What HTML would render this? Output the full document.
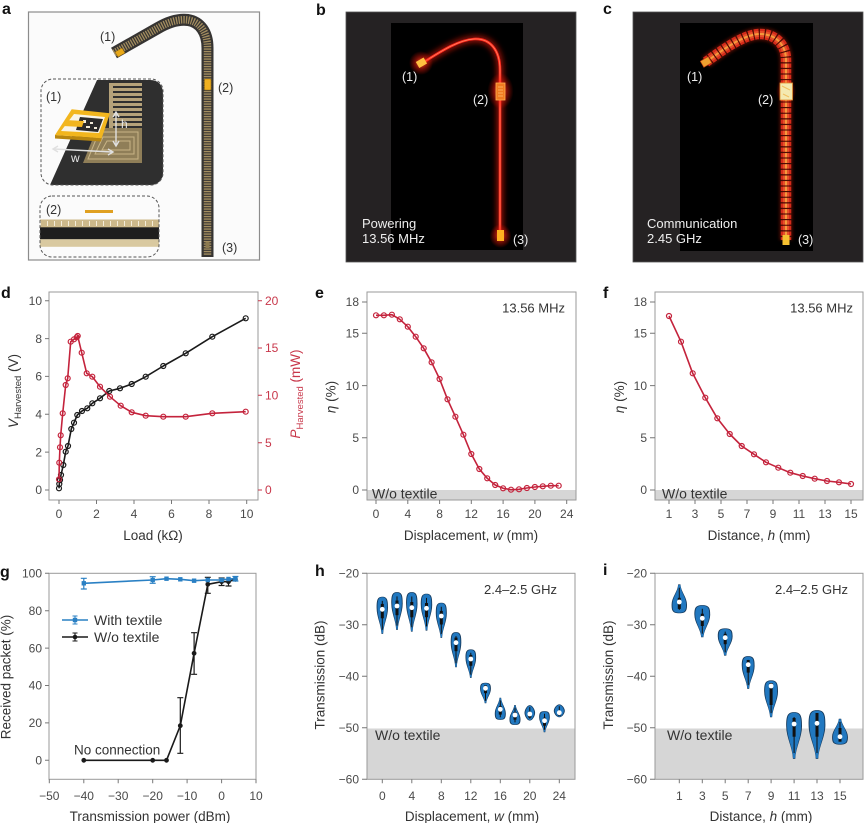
<!DOCTYPE html>
<html><head><meta charset="utf-8">
<style>html,body{margin:0;padding:0;background:#fff}svg{display:block}</style>
</head><body>
<svg width="865" height="823" viewBox="0 0 865 823" xmlns="http://www.w3.org/2000/svg" xmlns:xlink="http://www.w3.org/1999/xlink" font-family="'Liberation Sans', Arial, sans-serif">
<defs>
  <filter id="bl" x="-50%" y="-50%" width="200%" height="200%"><feGaussianBlur stdDeviation="3"/></filter>
  <filter id="bl2" x="-50%" y="-50%" width="200%" height="200%"><feGaussianBlur stdDeviation="1.5"/></filter>
  <radialGradient id="rg">
    <stop offset="0" stop-color="#ff6a30" stop-opacity="0.95"/>
    <stop offset="0.5" stop-color="#ff2010" stop-opacity="0.45"/>
    <stop offset="1" stop-color="#ff1000" stop-opacity="0"/>
  </radialGradient>
  <clipPath id="ca1"><rect x="41" y="79" width="122" height="106" rx="12"/></clipPath>
  <clipPath id="ca2"><rect x="40" y="196" width="119" height="61" rx="12"/></clipPath>
  <path id="vt" d="M0,0 C0.9,0 1,0.1 1,0.3 C1,0.55 0.2,0.75 0.15,1 L-0.15,1 C-0.2,0.75 -1,0.55 -1,0.3 C-1,0.1 -0.9,0 0,0 Z"/>
  <path id="vb" d="M0,1 C0.9,1 1,0.9 1,0.7 C1,0.45 0.2,0.25 0.15,0 L-0.15,0 C-0.2,0.25 -1,0.45 -1,0.7 C-1,0.9 -0.9,1 0,1 Z"/>
  <path id="vm" d="M0,0 C0.5,0 1,0.3 1,0.5 C1,0.7 0.5,1 0,1 C-0.5,1 -1,0.7 -1,0.5 C-1,0.3 -0.5,0 0,0 Z"/>
</defs>

<!-- panel letters -->
<g font-weight="bold" font-size="16" fill="#111">
  <text x="2" y="14">a</text>
  <text x="316" y="15">b</text>
  <text x="603" y="14">c</text>
  <text x="1" y="298">d</text>
  <text x="315" y="298">e</text>
  <text x="603" y="298">f</text>
  <text x="0" y="577">g</text>
  <text x="315" y="576">h</text>
  <text x="603" y="575">i</text>
</g>

<!-- ================= PANEL A ================= -->
<rect x="28.5" y="12" width="231" height="248" fill="#fbfbfb" stroke="#8c8c8c" stroke-width="1.2"/>
<path d="M114 53 L158 28 C170 21,180 19,188 20 C200 22,207.5 32,207.5 48 L207.5 257" fill="none" stroke="#363432" stroke-width="12"/>
<path d="M114 53 L158 28 C170 21,180 19,188 20 C200 22,207.5 32,207.5 48 L207.5 255" fill="none" stroke="#a38d5f" stroke-width="7.5" stroke-dasharray="1.3 1.2"/>
<polygon points="115,52 122,48 125,53 118,57" fill="#e8a818" stroke="#8a6010" stroke-width="0.5"/>
<rect x="204.5" y="79" width="6.5" height="11" rx="1" fill="#f0b020" stroke="#9a7010" stroke-width="0.6"/>
<rect x="205.5" y="242" width="4" height="6" fill="#8c7a50"/>
<g font-size="12.5" fill="#333">
  <text x="100" y="41">(1)</text>
  <text x="218" y="92">(2)</text>
  <text x="222" y="252">(3)</text>
</g>
<!-- inset 1 -->
<g clip-path="url(#ca1)">
  <path d="M50,185 L97,80 L150,80 Q163,80 163,95 L163,175 Q163,185 153,185 Z" fill="#2f2f2f"/>
  <g fill="#b5a27a">
    <rect x="111" y="83" width="31" height="3"/>
    <rect x="111" y="88" width="31" height="3"/>
    <rect x="111" y="93" width="31" height="3"/>
    <rect x="111" y="98" width="31" height="3"/>
    <rect x="111" y="103" width="31" height="3"/>
    <rect x="111" y="108" width="31" height="3"/>
    <rect x="111" y="113" width="31" height="3"/>
    <rect x="111" y="118" width="31" height="3"/>
    <rect x="111" y="123" width="31" height="3"/>
    <rect x="109" y="83" width="4" height="45"/>
  </g>
  <path d="M97 128 L142 128 L142 163 L83 163 Z" fill="#8f7e58"/>
  <g fill="none" stroke="#c8b486" stroke-width="1">
    <path d="M99 132 L138 132 L138 159 L88 159 Z"/>
    <path d="M103 137 L134 137 L134 154 L95 154 Z"/>
    <path d="M107 141 L130 141 L130 150 L102 150 Z"/>
  </g>
  <polygon points="55,135 101.7,138.3 101,141.5 55,138.5" fill="#b8860f"/>
  <polygon points="71.7,109.3 110,113.3 101.7,138.3 55,135" fill="#f2b61e"/>
  <polygon points="74,114 105,117 99,133 61,131" fill="#f8f4e8"/>
  <polygon points="80,117 103,119 98,132 76,130" fill="#2a2a2a"/>
  <g fill="#f0ead8"><rect x="83" y="120" width="3" height="3"/><rect x="90" y="122" width="3" height="2"/><rect x="86" y="126" width="4" height="2"/><rect x="94" y="127" width="3" height="2"/></g>
  <polygon points="65,120 84,121 82,127 63,126" fill="#f2b61e"/>
  <g stroke="#e0e0e0" stroke-width="1.4" fill="none">
    <path d="M116 113 V145"/><path d="M113 117 L116 112 L119 117"/><path d="M113 141 L116 146 L119 141"/>
    <path d="M54 149 L112 152"/><path d="M58 146 L53 149 L58 152"/><path d="M108 149 L113 152 L108 155"/>
  </g>
  <text x="121" y="128" font-size="12" fill="#e8e8e8">h</text>
  <text x="71" y="162" font-size="12" fill="#e8e8e8">w</text>
</g>
<rect x="41" y="79" width="122" height="106" rx="12" fill="none" stroke="#555" stroke-dasharray="3 2"/>
<text x="46" y="101" font-size="12.5" fill="#333">(1)</text>
<!-- inset 2 -->
<g clip-path="url(#ca2)">
  <rect x="40" y="219.5" width="120" height="8" fill="#cdb98a"/>
  <path d="M40 223.5 H160" stroke="#f4ecd8" stroke-width="5" stroke-dasharray="1 6"/>
  <rect x="40" y="227.3" width="120" height="12" fill="#1e1e1e"/>
  <rect x="40" y="239.3" width="120" height="7.5" fill="#d9c9a0"/>
</g>
<rect x="85" y="210" width="28" height="3" fill="#e0a020"/>
<rect x="40" y="196" width="119" height="61" rx="12" fill="none" stroke="#555" stroke-dasharray="3 2"/>
<text x="46" y="214" font-size="12.5" fill="#333">(2)</text>

<!-- ================= PANEL B ================= -->
<rect x="346" y="12" width="230" height="250" fill="#252223" stroke="#555" stroke-width="0.8"/>
<rect x="391" y="23" width="132" height="227" fill="#000"/>
<path d="M424 62 C440 52,458 40,474 39 C490 38,500 50,500 70 L500 234" fill="none" stroke="#ff1a10" stroke-width="7" opacity="0.55" filter="url(#bl)"/>
<path d="M424 62 C440 52,458 40,474 39 C490 38,500 50,500 70 L500 234" fill="none" stroke="#ff2a1c" stroke-width="2.6"/>
<path d="M424 62 C440 52,458 40,474 39 C490 38,500 50,500 70 L500 234" fill="none" stroke="#ff8a6a" stroke-width="0.7"/>
<circle cx="421" cy="63" r="12" fill="url(#rg)"/>
<rect x="417" y="59.5" width="9" height="7" fill="#ffc040" transform="rotate(-30 421 63)"/>
<ellipse cx="500.5" cy="91" rx="13" ry="18" fill="url(#rg)"/>
<rect x="496" y="83" width="9" height="17" fill="#f07a20" stroke="#ffb050" stroke-width="0.8"/>
<path d="M498 87H503M498 90H503M498 93H503M498 96H503" stroke="#ffc070" stroke-width="0.8"/>
<ellipse cx="500.5" cy="236" rx="11" ry="12" fill="url(#rg)"/>
<rect x="497" y="230" width="7" height="11" fill="#ffb020"/>
<g font-size="12.5" fill="#eee">
  <text x="402" y="81">(1)</text>
  <text x="473" y="104">(2)</text>
  <text x="513" y="244">(3)</text>
</g>
<g font-size="13" fill="#eee">
  <text x="362" y="228">Powering</text>
  <text x="362" y="243">13.56 MHz</text>
</g>

<!-- ================= PANEL C ================= -->
<rect x="633" y="12" width="230" height="250" fill="#252223" stroke="#555" stroke-width="0.8"/>
<rect x="680" y="23" width="133" height="228" fill="#000"/>
<path d="M706 62 C725 48,745 34,760 34 C776 34,786 45,786 60 L786 240" fill="none" stroke="#ff2a10" stroke-width="13" opacity="0.3" filter="url(#bl2)"/>
<path d="M706 62 C725 48,745 34,760 34 C776 34,786 45,786 60 L786 240" fill="none" stroke="#d42a1a" stroke-width="10.5" stroke-dasharray="4.3 1.3"/>
<path d="M706 62 C725 48,745 34,760 34 C776 34,786 45,786 60 L786 240" fill="none" stroke="#e6502a" stroke-width="6" stroke-dasharray="4.3 1.3"/>
<path d="M706 62 C725 48,745 34,760 34 C776 34,786 45,786 60 L786 240" fill="none" stroke="#f59a3c" stroke-width="2" stroke-dasharray="4.3 1.3"/>
<rect x="701.5" y="58.5" width="9" height="7" fill="#f0a030" stroke="#c84010" stroke-width="0.6" transform="rotate(-30 706 62)"/>
<ellipse cx="786" cy="91" rx="10" ry="13" fill="url(#rg)" opacity="0.7"/>
<rect x="780" y="83" width="12.5" height="17" fill="#f4eab0" stroke="#e09030" stroke-width="0.8"/>
<path d="M782 86 L790 90 M783 94 L789 97" stroke="#f0c060" stroke-width="1"/>
<rect x="782.5" y="235" width="7" height="10" fill="#f6c030"/>
<g font-size="12.5" fill="#eee">
  <text x="687" y="81">(1)</text>
  <text x="758" y="104">(2)</text>
  <text x="798" y="244">(3)</text>
</g>
<g font-size="13" fill="#eee">
  <text x="647" y="228">Communication</text>
  <text x="647" y="243">2.45 GHz</text>
</g>

<!-- ================= PANEL D ================= -->
<rect x="49" y="292" width="209" height="208" fill="none" stroke="#9a9a9a"/>
<path d="M45 490H49M45 452.1H49M45 414.3H49M45 376.4H49M45 338.6H49M45 300.7H49" stroke="#777"/>
<g font-size="12" fill="#4a4a4a" text-anchor="end">
  <text x="42" y="494.2">0</text><text x="42" y="456.3">2</text><text x="42" y="418.5">4</text>
  <text x="42" y="380.6">6</text><text x="42" y="342.8">8</text><text x="42" y="304.9">10</text>
</g>
<path d="M258 490H262M258 442.7H262M258 395.3H262M258 348H262M258 300.7H262" stroke="#c8374a"/>
<g font-size="12" fill="#c8374a">
  <text x="265" y="494.2">0</text><text x="265" y="446.9">5</text><text x="265" y="399.5">10</text>
  <text x="265" y="352.2">15</text><text x="265" y="304.9">20</text>
</g>
<path d="M59 500V504M96.5 500V504M134 500V504M171.5 500V504M209 500V504M246.7 500V504" stroke="#777"/>
<g font-size="12" fill="#4a4a4a" text-anchor="middle">
  <text x="59" y="518">0</text><text x="96.5" y="518">2</text><text x="134" y="518">4</text>
  <text x="171.5" y="518">6</text><text x="209" y="518">8</text><text x="246.7" y="518">10</text>
</g>
<text x="153" y="540" font-size="13.5" fill="#333" text-anchor="middle">Load (kΩ)</text>
<text transform="translate(18,391) rotate(-90)" text-anchor="middle" font-size="13.5" fill="#333"><tspan font-style="italic">V</tspan><tspan font-size="9.5" dy="3">Harvested</tspan><tspan dy="-3"> (V)</tspan></text>
<text transform="translate(300,394) rotate(-90)" text-anchor="middle" font-size="13.5" fill="#c8374a"><tspan font-style="italic">P</tspan><tspan font-size="9.5" dy="3">Harvested</tspan><tspan dy="-3"> (mW)</tspan></text>
<polyline fill="none" stroke="#1a1a1a" stroke-width="1.6" stroke-linejoin="round" points="59,488.3 59.3,484 60,480 61,475 63.3,465 65.7,451.7 68,446 71.3,429 74,422.7 77.3,415 82,411 87.3,408.3 92.3,403.3 100,398.3 109.3,391 120,388.3 131.7,384 145.7,376.7 163.3,366 185.7,353.3 212.3,336.7 245.7,318.3"/>
<g fill="none" stroke="#1a1a1a" stroke-width="1.2">
  <circle cx="59" cy="488.3" r="2.5"/><circle cx="59.3" cy="484" r="2.5"/><circle cx="60" cy="480" r="2.5"/><circle cx="61" cy="475" r="2.5"/>
  <circle cx="63.3" cy="465" r="2.5"/><circle cx="65.7" cy="451.7" r="2.5"/><circle cx="68" cy="446" r="2.5"/><circle cx="71.3" cy="429" r="2.5"/>
  <circle cx="74" cy="422.7" r="2.5"/><circle cx="77.3" cy="415" r="2.5"/><circle cx="82" cy="411" r="2.5"/><circle cx="87.3" cy="408.3" r="2.5"/>
  <circle cx="92.3" cy="403.3" r="2.5"/><circle cx="100" cy="398.3" r="2.5"/><circle cx="109.3" cy="391" r="2.5"/><circle cx="120" cy="388.3" r="2.5"/>
  <circle cx="131.7" cy="384" r="2.5"/><circle cx="145.7" cy="376.7" r="2.5"/><circle cx="163.3" cy="366" r="2.5"/><circle cx="185.7" cy="353.3" r="2.5"/>
  <circle cx="212.3" cy="336.7" r="2.5"/><circle cx="245.7" cy="318.3" r="2.5"/>
</g>
<polyline fill="none" stroke="#c4233c" stroke-width="1.6" stroke-linejoin="round" points="59,479.3 59.3,462.7 60,447.3 60.7,435.3 62.7,413.3 65.7,385 67.7,378.3 70.7,341.7 74,339.3 76.7,337.3 77.7,336 81.7,352.7 86.7,373.3 92.3,376.7 100,386.7 110,396.7 120.7,405.7 131.7,412.3 145.7,415.7 163.3,416.7 185.7,416.7 212.3,413.3 245.7,411.7"/>
<g fill="none" stroke="#c4233c" stroke-width="1.2">
  <circle cx="59" cy="479.3" r="2.5"/><circle cx="59.3" cy="462.7" r="2.5"/><circle cx="60" cy="447.3" r="2.5"/><circle cx="60.7" cy="435.3" r="2.5"/>
  <circle cx="62.7" cy="413.3" r="2.5"/><circle cx="65.7" cy="385" r="2.5"/><circle cx="67.7" cy="378.3" r="2.5"/><circle cx="70.7" cy="341.7" r="2.5"/>
  <circle cx="74" cy="339.3" r="2.5"/><circle cx="76.7" cy="337.3" r="2.5"/><circle cx="77.7" cy="336" r="2.5"/><circle cx="81.7" cy="352.7" r="2.5"/>
  <circle cx="86.7" cy="373.3" r="2.5"/><circle cx="92.3" cy="376.7" r="2.5"/><circle cx="100" cy="386.7" r="2.5"/><circle cx="110" cy="396.7" r="2.5"/>
  <circle cx="120.7" cy="405.7" r="2.5"/><circle cx="131.7" cy="412.3" r="2.5"/><circle cx="145.7" cy="415.7" r="2.5"/><circle cx="163.3" cy="416.7" r="2.5"/>
  <circle cx="185.7" cy="416.7" r="2.5"/><circle cx="212.3" cy="413.3" r="2.5"/><circle cx="245.7" cy="411.7" r="2.5"/>
</g>

<!-- ================= PANEL E ================= -->
<rect x="367" y="490" width="209" height="10" fill="#d6d6d6"/>
<rect x="367" y="292" width="209" height="208" fill="none" stroke="#9a9a9a"/>
<path d="M362 490H367M362 437.8H367M362 385.6H367M362 333.3H367M362 302H367" stroke="#777"/>
<g font-size="12" fill="#4a4a4a" text-anchor="end">
  <text x="359" y="494.2">0</text><text x="359" y="442">5</text><text x="359" y="389.8">10</text>
  <text x="359" y="337.5">15</text><text x="359" y="306.2">18</text>
</g>
<path d="M376 500V504M407.8 500V504M439.6 500V504M471.3 500V504M503.1 500V504M534.9 500V504M566.7 500V504" stroke="#777"/>
<g font-size="12" fill="#4a4a4a" text-anchor="middle">
  <text x="376" y="518">0</text><text x="407.8" y="518">4</text><text x="439.6" y="518">8</text>
  <text x="471.3" y="518">12</text><text x="503.1" y="518">16</text><text x="534.9" y="518">20</text><text x="566.7" y="518">24</text>
</g>
<text x="471" y="540" font-size="13.5" fill="#333" text-anchor="middle">Displacement, <tspan font-style="italic">w</tspan> (mm)</text>
<text transform="translate(335.5,397) rotate(-90)" text-anchor="middle" font-size="13.5" fill="#333"><tspan font-style="italic">η</tspan> (%)</text>
<text x="565" y="312.5" font-size="13" fill="#333" text-anchor="end">13.56 MHz</text>
<text x="372" y="498.5" font-size="14" fill="#333">W/o textile</text>
<polyline fill="none" stroke="#c4233c" stroke-width="1.6" stroke-linejoin="round" points="376,315.3 383.9,315.3 391.9,314.7 399.8,319.3 407.8,326.7 415.7,336.7 423.7,348.3 431.6,362.3 439.6,379 447.5,399.3 455.4,416.7 463.4,434.7 471.3,454 479.3,469 487.2,478.3 495.2,485 503.1,488.3 511,489.7 519,489.3 526.9,488 534.9,487 542.8,486.3 550.8,485.7 558.7,485.7"/>
<g fill="none" stroke="#c4233c" stroke-width="1.2">
  <circle cx="376" cy="315.3" r="2.5"/><circle cx="383.9" cy="315.3" r="2.5"/><circle cx="391.9" cy="314.7" r="2.5"/><circle cx="399.8" cy="319.3" r="2.5"/>
  <circle cx="407.8" cy="326.7" r="2.5"/><circle cx="415.7" cy="336.7" r="2.5"/><circle cx="423.7" cy="348.3" r="2.5"/><circle cx="431.6" cy="362.3" r="2.5"/>
  <circle cx="439.6" cy="379" r="2.5"/><circle cx="447.5" cy="399.3" r="2.5"/><circle cx="455.4" cy="416.7" r="2.5"/><circle cx="463.4" cy="434.7" r="2.5"/>
  <circle cx="471.3" cy="454" r="2.5"/><circle cx="479.3" cy="469" r="2.5"/><circle cx="487.2" cy="478.3" r="2.5"/><circle cx="495.2" cy="485" r="2.5"/>
  <circle cx="503.1" cy="488.3" r="2.5"/><circle cx="511" cy="489.7" r="2.5"/><circle cx="519" cy="489.3" r="2.5"/><circle cx="526.9" cy="488" r="2.5"/>
  <circle cx="534.9" cy="487" r="2.5"/><circle cx="542.8" cy="486.3" r="2.5"/><circle cx="550.8" cy="485.7" r="2.5"/><circle cx="558.7" cy="485.7" r="2.5"/>
</g>

<!-- ================= PANEL F ================= -->
<rect x="655" y="490" width="208" height="10" fill="#d6d6d6"/>
<rect x="655" y="292" width="208" height="208" fill="none" stroke="#9a9a9a"/>
<path d="M650 490H655M650 437.8H655M650 385.6H655M650 333.3H655M650 302H655" stroke="#777"/>
<g font-size="12" fill="#4a4a4a" text-anchor="end">
  <text x="647" y="494.2">0</text><text x="647" y="442">5</text><text x="647" y="389.8">10</text>
  <text x="647" y="337.5">15</text><text x="647" y="306.2">18</text>
</g>
<path d="M669 500V504M695 500V504M721 500V504M747 500V504M773 500V504M799 500V504M825 500V504M851 500V504" stroke="#777"/>
<g font-size="12" fill="#4a4a4a" text-anchor="middle">
  <text x="669" y="518">1</text><text x="695" y="518">3</text><text x="721" y="518">5</text><text x="747" y="518">7</text>
  <text x="773" y="518">9</text><text x="799" y="518">11</text><text x="825" y="518">13</text><text x="851" y="518">15</text>
</g>
<text x="759" y="540" font-size="13.5" fill="#333" text-anchor="middle">Distance, <tspan font-style="italic">h</tspan> (mm)</text>
<text transform="translate(624,397) rotate(-90)" text-anchor="middle" font-size="13.5" fill="#333"><tspan font-style="italic">η</tspan> (%)</text>
<text x="853" y="312.5" font-size="13" fill="#333" text-anchor="end">13.56 MHz</text>
<text x="662" y="498.5" font-size="14" fill="#333">W/o textile</text>
<polyline fill="none" stroke="#c4233c" stroke-width="1.6" stroke-linejoin="round" points="669,316 681,341.7 692.7,373.3 705.3,397.7 717.3,418.3 729.7,434 741.7,446 754,454.3 766,462.3 778.3,467.7 790.3,472.7 802.7,476 814.7,478.7 827,481 839,482.3 851,484"/>
<g fill="none" stroke="#c4233c" stroke-width="1.2">
  <circle cx="669" cy="316" r="2.5"/><circle cx="681" cy="341.7" r="2.5"/><circle cx="692.7" cy="373.3" r="2.5"/><circle cx="705.3" cy="397.7" r="2.5"/>
  <circle cx="717.3" cy="418.3" r="2.5"/><circle cx="729.7" cy="434" r="2.5"/><circle cx="741.7" cy="446" r="2.5"/><circle cx="754" cy="454.3" r="2.5"/>
  <circle cx="766" cy="462.3" r="2.5"/><circle cx="778.3" cy="467.7" r="2.5"/><circle cx="790.3" cy="472.7" r="2.5"/><circle cx="802.7" cy="476" r="2.5"/>
  <circle cx="814.7" cy="478.7" r="2.5"/><circle cx="827" cy="481" r="2.5"/><circle cx="839" cy="482.3" r="2.5"/><circle cx="851" cy="484" r="2.5"/>
</g>

<!-- ================= PANEL G ================= -->
<rect x="49" y="573.3" width="207" height="206" fill="none" stroke="#9a9a9a"/>
<path d="M45 760.3H49M45 722.9H49M45 685.5H49M45 648.1H49M45 610.7H49M45 573.3H49" stroke="#777"/>
<g font-size="12" fill="#4a4a4a" text-anchor="end">
  <text x="42" y="764.5">0</text><text x="42" y="727.1">20</text><text x="42" y="689.7">40</text>
  <text x="42" y="652.3">60</text><text x="42" y="614.9">80</text><text x="42" y="577.5">100</text>
</g>
<path d="M49.3 779.3V783.3M83.8 779.3V783.3M118.2 779.3V783.3M152.7 779.3V783.3M187.1 779.3V783.3M221.6 779.3V783.3M256 779.3V783.3" stroke="#777"/>
<g font-size="12" fill="#4a4a4a" text-anchor="middle">
  <text x="49.3" y="800">−50</text><text x="83.8" y="800">−40</text><text x="118.2" y="800">−30</text>
  <text x="152.7" y="800">−20</text><text x="187.1" y="800">−10</text><text x="221.6" y="800">0</text><text x="256" y="800">10</text>
</g>
<text x="150" y="821" font-size="13.5" fill="#333" text-anchor="middle">Transmission power (dBm)</text>
<text transform="translate(10.5,677) rotate(-90)" text-anchor="middle" font-size="13.5" fill="#333">Received packet (%)</text>
<polyline fill="none" stroke="#1a1a1a" stroke-width="1.6" points="83.8,760.3 152.7,760.3 166.5,760.3 180.3,725.7 194.1,653.3 207.8,584.3 221.6,581.7 228.5,581.7 235.4,579.3"/>
<g stroke="#1a1a1a" stroke-width="1.2" fill="none">
  <path d="M180.3 697.7V753.3M177.3 697.7H183.3M177.3 753.3H183.3"/>
  <path d="M194.1 632.7V674.3M191.1 632.7H197.1M191.1 674.3H197.1"/>
  <path d="M207.8 577.3V593.3M204.8 577.3H210.8M204.8 593.3H210.8"/>
  <path d="M221.6 578V585.5M218.6 578H224.6M218.6 585.5H224.6"/>
  <path d="M228.5 579.3V586M225.5 579.3H231.5M225.5 586H231.5"/>
</g>
<g fill="#1a1a1a">
  <circle cx="83.8" cy="760.3" r="2.4"/><circle cx="152.7" cy="760.3" r="2.4"/><circle cx="166.5" cy="760.3" r="2.4"/>
  <circle cx="180.3" cy="725.7" r="2.4"/><circle cx="194.1" cy="653.3" r="2.4"/><circle cx="207.8" cy="584.3" r="2.4"/>
  <circle cx="221.6" cy="581.7" r="2.4"/><circle cx="228.5" cy="581.7" r="2.4"/><circle cx="235.4" cy="579.3" r="2.4"/>
</g>
<polyline fill="none" stroke="#2a80c4" stroke-width="1.6" points="83.8,583.3 152.7,580 166.5,578.7 180.3,579.3 194.1,580.7 207.8,580 221.6,580 228.5,579 235.4,578.7"/>
<g stroke="#2a80c4" stroke-width="1.2" fill="none">
  <path d="M83.8 578.3V589M80.8 578.3H86.8M80.8 589H86.8"/>
  <path d="M152.7 576.7V583.3M149.7 576.7H155.7M149.7 583.3H155.7"/>
  <path d="M235.4 576.5V581M232.4 576.5H238.4M232.4 581H238.4"/>
</g>
<g fill="#2a80c4">
  <rect x="81.6" y="581.1" width="4.4" height="4.4"/><rect x="150.5" y="577.8" width="4.4" height="4.4"/>
  <rect x="164.3" y="576.5" width="4.4" height="4.4"/><rect x="178.1" y="577.1" width="4.4" height="4.4"/>
  <rect x="191.9" y="578.5" width="4.4" height="4.4"/><rect x="205.6" y="577.8" width="4.4" height="4.4"/>
  <rect x="219.4" y="577.8" width="4.4" height="4.4"/><rect x="226.3" y="576.8" width="4.4" height="4.4"/>
  <rect x="233.2" y="576.5" width="4.4" height="4.4"/>
</g>
<path d="M62 620H88" stroke="#2a80c4" stroke-width="1.6"/>
<path d="M75 616V624M72.5 616H77.5M72.5 624H77.5" stroke="#2a80c4" stroke-width="1.1" fill="none"/>
<rect x="72.8" y="617.8" width="4.4" height="4.4" fill="#2a80c4"/>
<path d="M62 637H88" stroke="#1a1a1a" stroke-width="1.6"/>
<path d="M75 633V641M72.5 633H77.5M72.5 641H77.5" stroke="#1a1a1a" stroke-width="1.1" fill="none"/>
<circle cx="75" cy="637" r="2.3" fill="#1a1a1a"/>
<text x="94" y="625" font-size="14" fill="#333">With textile</text>
<text x="94" y="642" font-size="14" fill="#333">W/o textile</text>
<text x="74" y="754.5" font-size="13.5" fill="#333">No connection</text>

<!-- ================= PANEL H ================= -->
<rect x="367" y="728.5" width="208" height="50.8" fill="#d6d6d6"/>
<rect x="367" y="573.3" width="208" height="206" fill="none" stroke="#9a9a9a"/>
<path d="M362 573.3H367M362 624.8H367M362 676.3H367M362 727.8H367M362 779.3H367" stroke="#777"/>
<g font-size="12" fill="#4a4a4a" text-anchor="end">
  <text x="359" y="577.5">−20</text><text x="359" y="629">−30</text><text x="359" y="680.5">−40</text>
  <text x="359" y="732">−50</text><text x="359" y="783.5">−60</text>
</g>
<path d="M382.3 779.3V783.3M411.8 779.3V783.3M441.3 779.3V783.3M470.8 779.3V783.3M500.3 779.3V783.3M529.8 779.3V783.3M559.3 779.3V783.3" stroke="#777"/>
<g font-size="12" fill="#4a4a4a" text-anchor="middle">
  <text x="382.3" y="800">0</text><text x="411.8" y="800">4</text><text x="441.3" y="800">8</text>
  <text x="470.8" y="800">12</text><text x="500.3" y="800">16</text><text x="529.8" y="800">20</text><text x="559.3" y="800">24</text>
</g>
<text x="472" y="821" font-size="13.5" fill="#333" text-anchor="middle">Displacement, <tspan font-style="italic">w</tspan> (mm)</text>
<text transform="translate(324.5,675) rotate(-90)" text-anchor="middle" font-size="13.5" fill="#333">Transmission (dB)</text>
<text x="557" y="594" font-size="13" fill="#333" text-anchor="end">2.4–2.5 GHz</text>
<text x="375" y="740" font-size="14" fill="#333">W/o textile</text>
<g fill="#163a5c">
  <use xlink:href="#vt" href="#vt" transform="translate(382.3,596.7) scale(5.7,37.2)"/>
  <use xlink:href="#vt" href="#vt" transform="translate(397,592.1) scale(5.7,37.8)"/>
  <use xlink:href="#vt" href="#vt" transform="translate(411.8,592.1) scale(5.7,39.5)"/>
  <use xlink:href="#vt" href="#vt" transform="translate(426.5,593.7) scale(5.7,36.9)"/>
  <use xlink:href="#vt" href="#vt" transform="translate(441.3,602.7) scale(5.5,35.2)"/>
  <use xlink:href="#vt" href="#vt" transform="translate(456,632.1) scale(5.3,35.2)"/>
  <use xlink:href="#vt" href="#vt" transform="translate(470.8,649.4) scale(5.3,28.5)"/>
  <use xlink:href="#vt" href="#vt" transform="translate(485.5,682.7) scale(5.4,20.6)"/>
  <use xlink:href="#vb" href="#vb" transform="translate(500.3,697.7) scale(5.5,22.2)"/>
  <use xlink:href="#vb" href="#vb" transform="translate(515,705.1) scale(5.5,19.8)"/>
  <use xlink:href="#vm" href="#vm" transform="translate(529.8,705.1) scale(5.3,15.5)"/>
  <use xlink:href="#vt" href="#vt" transform="translate(544.5,711.1) scale(5.3,21.2)"/>
  <use xlink:href="#vm" href="#vm" transform="translate(559.3,704.4) scale(5.5,12.9)"/>
</g>
<g fill="#2178c0">
  <use xlink:href="#vt" href="#vt" transform="translate(382.3,597.3) scale(4.8,36)"/>
  <use xlink:href="#vt" href="#vt" transform="translate(397,592.7) scale(4.8,36.6)"/>
  <use xlink:href="#vt" href="#vt" transform="translate(411.8,592.7) scale(4.8,38.3)"/>
  <use xlink:href="#vt" href="#vt" transform="translate(426.5,594.3) scale(4.8,35.7)"/>
  <use xlink:href="#vt" href="#vt" transform="translate(441.3,603.3) scale(4.6,34)"/>
  <use xlink:href="#vt" href="#vt" transform="translate(456,632.7) scale(4.4,34)"/>
  <use xlink:href="#vt" href="#vt" transform="translate(470.8,650) scale(4.4,27.3)"/>
  <use xlink:href="#vt" href="#vt" transform="translate(485.5,683.3) scale(4.5,19.4)"/>
  <use xlink:href="#vb" href="#vb" transform="translate(500.3,698.3) scale(4.6,21)"/>
  <use xlink:href="#vb" href="#vb" transform="translate(515,705.7) scale(4.6,18.6)"/>
  <use xlink:href="#vm" href="#vm" transform="translate(529.8,705.7) scale(4.4,14.3)"/>
  <use xlink:href="#vt" href="#vt" transform="translate(544.5,711.7) scale(4.4,20)"/>
  <use xlink:href="#vm" href="#vm" transform="translate(559.3,705) scale(4.6,11.7)"/>
</g>
<g stroke="#111" stroke-width="1">
  <path d="M382.3 600.9V629.7M397 596.4V625.6M411.8 596.5V627.2M426.5 597.9V626.4M441.3 606.7V633.9M456 636.1V663.3M470.8 652.7V674.6M485.5 685.2V700.8M500.3 700.4V717.2M515 707.6V722.4M529.8 707.1V718.6M544.5 713.7V729.7M559.3 706.2V715.5"/>
</g>
<g fill="#111">
  <rect x="380.8" y="603.9" width="3" height="14.4"/><rect x="395.5" y="600.5" width="3" height="14.7"/>
  <rect x="410.3" y="602" width="3" height="15.3"/><rect x="425" y="603" width="3" height="14.2"/>
  <rect x="439.8" y="610.9" width="3" height="13.6"/><rect x="454.5" y="637.6" width="3" height="13.6"/>
  <rect x="469.3" y="654.9" width="3" height="10.9"/><rect x="484" y="685.4" width="3" height="7.8"/>
  <rect x="498.8" y="706.2" width="3" height="8.4"/><rect x="513.5" y="712.2" width="3" height="7.5"/>
  <rect x="528.3" y="711.9" width="3" height="5.7"/><rect x="543" y="717.7" width="3" height="8"/>
  <rect x="557.8" y="710.9" width="3" height="4.7"/>
</g>
<g fill="#fff">
  <circle cx="382.3" cy="609.3" r="2.4"/><circle cx="397" cy="606" r="2.4"/><circle cx="411.8" cy="607.7" r="2.4"/>
  <circle cx="426.5" cy="608.3" r="2.4"/><circle cx="441.3" cy="616" r="2.4"/><circle cx="456" cy="642.7" r="2.4"/>
  <circle cx="470.8" cy="659" r="2.4"/><circle cx="485.5" cy="688.3" r="2.4"/><circle cx="500.3" cy="709.3" r="2.4"/>
  <circle cx="515" cy="715" r="2.4"/><circle cx="529.8" cy="714" r="2.4"/><circle cx="544.5" cy="720.7" r="2.4"/>
  <circle cx="559.3" cy="712.7" r="2.4"/>
</g>

<!-- ================= PANEL I ================= -->
<rect x="655" y="728.5" width="208" height="50.8" fill="#d6d6d6"/>
<rect x="655" y="573.3" width="208" height="206" fill="none" stroke="#9a9a9a"/>
<path d="M650 573.3H655M650 624.8H655M650 676.3H655M650 727.8H655M650 779.3H655" stroke="#777"/>
<g font-size="12" fill="#4a4a4a" text-anchor="end">
  <text x="647" y="577.5">−20</text><text x="647" y="629">−30</text><text x="647" y="680.5">−40</text>
  <text x="647" y="732">−50</text><text x="647" y="783.5">−60</text>
</g>
<path d="M679.3 779.3V783.3M702.3 779.3V783.3M725.2 779.3V783.3M748.2 779.3V783.3M771.1 779.3V783.3M794.1 779.3V783.3M817 779.3V783.3M840 779.3V783.3" stroke="#777"/>
<g font-size="12" fill="#4a4a4a" text-anchor="middle">
  <text x="679.3" y="800">1</text><text x="702.3" y="800">3</text><text x="725.2" y="800">5</text><text x="748.2" y="800">7</text>
  <text x="771.1" y="800">9</text><text x="794.1" y="800">11</text><text x="817" y="800">13</text><text x="840" y="800">15</text>
</g>
<text x="761" y="821" font-size="13.5" fill="#333" text-anchor="middle">Distance, <tspan font-style="italic">h</tspan> (mm)</text>
<text transform="translate(613,675) rotate(-90)" text-anchor="middle" font-size="13.5" fill="#333">Transmission (dB)</text>
<text x="848" y="594" font-size="13" fill="#333" text-anchor="end">2.4–2.5 GHz</text>
<text x="667" y="740" font-size="14" fill="#333">W/o textile</text>
<g fill="#163a5c">
  <use xlink:href="#vb" href="#vb" transform="translate(679.3,584.4) scale(7.7,28.9)"/>
  <use xlink:href="#vt" href="#vt" transform="translate(702.3,605.1) scale(7.9,32.2)"/>
  <use xlink:href="#vt" href="#vt" transform="translate(725.2,628.4) scale(7.4,27.2)"/>
  <use xlink:href="#vt" href="#vt" transform="translate(748.2,656.1) scale(6.4,32.8)"/>
  <use xlink:href="#vt" href="#vt" transform="translate(771.1,680.4) scale(6.9,36.9)"/>
  <use xlink:href="#vt" href="#vt" transform="translate(794.1,712.1) scale(7.9,46.8)"/>
  <use xlink:href="#vt" href="#vt" transform="translate(817,710.1) scale(8.4,48.8)"/>
  <use xlink:href="#vb" href="#vb" transform="translate(840,718.7) scale(7.9,25.9)"/>
</g>
<g fill="#2178c0">
  <use xlink:href="#vb" href="#vb" transform="translate(679.3,585) scale(6.8,27.7)"/>
  <use xlink:href="#vt" href="#vt" transform="translate(702.3,605.7) scale(7,31)"/>
  <use xlink:href="#vt" href="#vt" transform="translate(725.2,629) scale(6.5,26)"/>
  <use xlink:href="#vt" href="#vt" transform="translate(748.2,656.7) scale(5.5,31.6)"/>
  <use xlink:href="#vt" href="#vt" transform="translate(771.1,681) scale(6,35.7)"/>
  <use xlink:href="#vt" href="#vt" transform="translate(794.1,712.7) scale(7,45.6)"/>
  <use xlink:href="#vt" href="#vt" transform="translate(817,710.7) scale(7.5,47.6)"/>
  <use xlink:href="#vb" href="#vb" transform="translate(840,719.3) scale(7,24.7)"/>
</g>
<g stroke="#111" stroke-width="1">
  <path d="M679.3 587.8V609.9M702.3 608.8V633.6M725.2 631.6V652.4M748.2 659.9V685.1M771.1 684.6V713.1M794.1 717V753M817 715V753M840 722V741"/>
</g>
<g fill="#111">
  <rect x="677.8" y="597.8" width="3" height="11.1"/><rect x="700.8" y="613.7" width="3" height="12.3"/>
  <rect x="723.7" y="633.8" width="3" height="10.4"/><rect x="746.7" y="660" width="3" height="12.6"/>
  <rect x="769.6" y="683" width="3" height="22"/><rect x="792.6" y="718" width="3" height="18.7"/>
  <rect x="815.5" y="713" width="3" height="23.7"/><rect x="838.5" y="728" width="3" height="13.7"/>
</g>
<g fill="#fff">
  <circle cx="679.3" cy="602" r="2.4"/><circle cx="702.3" cy="618.3" r="2.4"/><circle cx="725.2" cy="637.7" r="2.4"/>
  <circle cx="748.2" cy="664.7" r="2.4"/><circle cx="771.1" cy="686" r="2.4"/><circle cx="794.1" cy="724" r="2.4"/>
  <circle cx="817" cy="723.3" r="2.4"/><circle cx="840" cy="736.7" r="2.4"/>
</g>
</svg>
</body></html>
